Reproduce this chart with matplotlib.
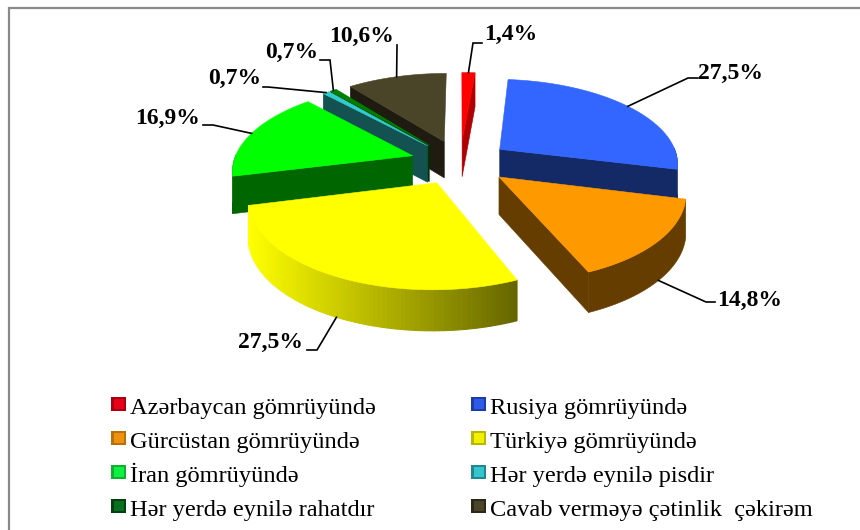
import numpy as np
import matplotlib
matplotlib.use("Agg")
import matplotlib.pyplot as plt
from matplotlib.patches import Polygon, Rectangle

categories = ["Azərbaycan gömrüyündə", "Rusiya gömrüyündə", "Gürcüstan gömrüyündə",
              "Türkiyə gömrüyündə", "İran gömrüyündə", "Hər yerdə eynilə pisdir",
              "Hər yerdə eynilə rahatdır", "Cavab verməyə çətinlik  çəkirəm"]
values = [1.4, 27.5, 14.8, 27.5, 16.9, 0.7, 0.7, 10.6]
labels = ["1,4%", "27,5%", "14,8%", "27,5%", "16,9%", "0,7%", "0,7%", "10,6%"]
top_colors = ["#FF0000", "#3366FF", "#FF9900", "#FFFF00", "#00FF00", "#33CCCC", "#008000", "#4A4428"]
side_colors = ["#B00000", "#132A66", "#663D00", "#FFFF00", "#006600", "#145252", "#003300", "#1F1B10"]
legend_outer = ["#A80010", "#1E3CA8", "#B87008", "#B8B800", "#10B030", "#208890", "#064010", "#2C2816"]
legend_inner = ["#E80018", "#2F5AE8", "#F09010", "#F0F000", "#10F040", "#35C5CC", "#087020", "#4A4428"]
# elbow x, elbow y, end x of the leader, text x, text y
label_pos = [(473, 43, 482, 484, 34), (688, 78, 698, 698, 73), (706, 302, 715, 717, 300),
             (317, 350, 307, 238, 342), (213, 125, 203, 135, 118), (268, 87, 263, 208, 78),
             (330, 60, 320, 265, 52), (397, 45, 397, 329, 36)]

CX, CY, R, RC, K, D, EX, EY = 460.0, 162.0, 179.0, 84.0, 0.15, 37.0, 0.279, 0.267

fig = plt.figure(figsize=(8.6, 5.3), dpi=100)
ax = fig.add_axes([0, 0, 1, 1])
ax.set_xlim(0, 860)
ax.set_ylim(530, 0)
ax.axis("off")

ax.plot([9, 9, 860], [530, 8, 8], color="#8A8A8A", lw=1.6, zorder=1, solid_joinstyle="miter")


def project(x, y):
    s = 1.0 / (1.0 + K * y)
    return CX + R * s * x, CY - RC * s * y


def drop(y):
    return D * np.sqrt(1.0 / (1.0 + K * y))


shares = np.array(values) / sum(values)
edges = np.concatenate([[0], np.cumsum(shares)]) * 2 * np.pi
order = [7, 6, 5, 0, 4, 1, 2, 3]
rims = {}

for rank, i in enumerate(order):
    z = 3 + rank
    a0, a1 = edges[i], edges[i + 1]
    mid = (a0 + a1) / 2
    ox, oy = EX * np.sin(mid), EY * np.cos(mid)
    th = np.linspace(a0, a1, 80)
    rx, ry = ox + np.sin(th), oy + np.cos(th)
    top = [project(ox, oy)] + [project(a, b) for a, b in zip(rx, ry)]
    mx, my = ox + np.sin(mid), oy + np.cos(mid)
    rims[i] = project(mx, my) + (drop(my),)
    vis = np.cos(th) < 0.02
    if vis.any():
        idx = np.where(vis)[0]
        if i == 3:
            # yellow rim fades from bright (left) to olive (right)
            for j in idx[:-1]:
                p0, p1 = project(rx[j], ry[j]), project(rx[j + 1], ry[j + 1])
                q = [p0, p1, (p1[0], p1[1] + drop(ry[j + 1])), (p0[0], p0[1] + drop(ry[j]))]
                t = 1.0 - 0.6 * (p0[0] - 250) / 267
                t = min(1.0, t)
                col = (t, t, 0.0)
                ax.add_patch(Polygon(q, closed=True, fc=col, ec=col, lw=0.8, zorder=z))
        else:
            upper = [project(rx[j], ry[j]) for j in idx]
            lower = [(project(rx[j], ry[j])[0], project(rx[j], ry[j])[1] + drop(ry[j])) for j in idx[::-1]]
            ax.add_patch(Polygon(upper + lower, closed=True, fc=side_colors[i], ec=side_colors[i], lw=0.4, zorder=z))
    # radial faces that look towards the viewer
    for ang, normal in ((a0, a0 - np.pi / 2), (a1, a1 + np.pi / 2)):
        if np.cos(normal) < 0:
            p0 = project(ox, oy)
            yy = oy + np.cos(ang)
            p1 = project(ox + np.sin(ang), yy)
            q = [p0, p1, (p1[0], p1[1] + drop(yy)), (p0[0], p0[1] + drop(oy))]
            ax.add_patch(Polygon(q, closed=True, fc=side_colors[i], ec=side_colors[i], lw=0.4, zorder=z))
    ax.add_patch(Polygon(top, closed=True, fc=top_colors[i], ec=top_colors[i], lw=0.4, zorder=z))

serif = ["Liberation Serif", "DejaVu Serif"]
for i, (ex, ey, tx, lx, ly) in enumerate(label_pos):
    sx, sy, dy = rims[i]
    if i in (2, 3):
        sy += dy
    ax.plot([sx, ex, tx], [sy, ey, ey], color="black", lw=1.2, zorder=20, solid_joinstyle="miter")
    ax.text(lx, ly, labels[i], family=serif, fontsize=17, fontweight="bold", va="center", ha="left", zorder=21)

for i, name in enumerate(categories):
    col, row = i % 2, i // 2
    x = 111 + 360 * col
    y = 397 + 34.0 * row
    ax.add_patch(Rectangle((x, y), 15, 14, fc=legend_outer[i], ec="none", zorder=5))
    ax.add_patch(Rectangle((x + 2.5, y + 2), 10, 9.5, fc=legend_inner[i], ec="none", zorder=6))
    ax.text(x + 19, y + 17, name, family=serif, fontsize=17.6, va="baseline", ha="left", zorder=5)

fig.savefig("out.png", dpi=100)
